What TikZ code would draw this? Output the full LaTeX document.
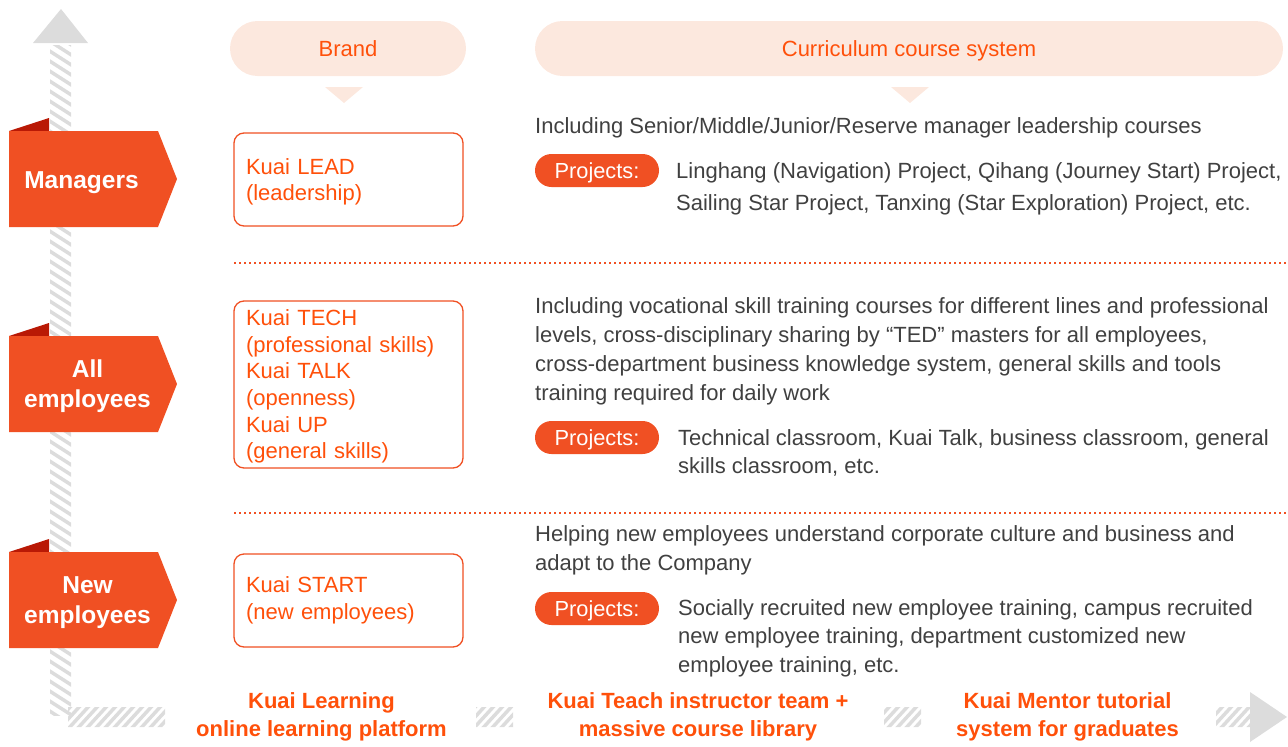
\documentclass[tikz,border=0pt]{standalone}
\usepackage{fontspec}
\setmainfont{Liberation Sans}
\definecolor{kuaiorange}{RGB}{240,80,35}
\definecolor{kuaitext}{RGB}{255,80,10}
\definecolor{kuaidark}{RGB}{185,25,5}
\definecolor{kuaipeach}{RGB}{252,232,222}
\definecolor{hatchgray}{RGB}{220,220,220}
\definecolor{bodygray}{RGB}{64,64,64}

\begin{document}
\begin{tikzpicture}[x=1pt,y=-1pt,
    flagtext/.style={text=white,font=\fontsize{24.5}{30}\selectfont\bfseries,align=center},
    head/.style={fill=kuaipeach,rounded corners=27.5pt,text=kuaitext,font=\fontsize{22}{26}\selectfont,
      text height=16pt,text depth=0pt,minimum height=55pt},
    brandbox/.style={draw=kuaiorange,line width=1.3pt,rounded corners=10pt,fill=white,text=kuaitext,
      font=\fontsize{22}{26.6}\selectfont,align=left,text width=205pt,inner xsep=12pt,minimum width=229pt},
    body/.style={text=bodygray,font=\fontsize{22}{29}\selectfont,align=left,anchor=north west,inner sep=0pt},
    projpill/.style={fill=kuaiorange,text=white,rounded corners=16.5pt,minimum width=124pt,minimum height=33pt,
      inner sep=0pt,text height=16pt,text depth=0pt,font=\fontsize{21.8}{24}\selectfont},
    footer/.style={text=kuaitext,font=\fontsize{22}{28}\selectfont\bfseries,align=center},
    sep/.style={draw=kuaiorange,line width=2pt,dash pattern=on 2pt off 3pt},
    hatch/.style={draw=hatchgray,line width=3.5pt}]
  \useasboundingbox (0,0) rectangle (1288,747);

  % Achsen (schraffiert)
  \fill[hatchgray] (33,43) -- (88,43) -- (61,9) -- cycle;
  \fill[hatchgray] (1250,692) -- (1250,742) -- (1287,717) -- cycle;
  \begin{scope}
    \clip (50,45) rectangle (71,715);
    \foreach \y in {30,40,...,720}
      \draw[hatch] (48,\y) -- ++(25,16);
  \end{scope}
  \begin{scope}
    \clip (68,707) rectangle (165,727) (476,707) rectangle (513,727)
          (884,707) rectangle (921,727) (1216,707) rectangle (1250,727);
    \foreach \x in {50,59,...,1260}
      \draw[hatch] (\x,729) -- ++(22,-24);
  \end{scope}

  % Zielgruppen
  \foreach \y/\cx/\dy/\name/\txt in {131/81.5/52/mgr/Managers,336/87.5/50.5/all/All\\employees,552/87.5/50.5/new/New\\employees}{
    \fill[kuaidark] (9,\y) -- (49,\y-13) -- (49,\y) -- cycle;
    \fill[kuaiorange] (9,\y) -- (158,\y) -- (177,\y+48) -- (158,\y+96) -- (9,\y+96) -- cycle;
    \node[flagtext] (\name) at (\cx,\y+\dy) {\txt};
  }

  % Kopfzeile
  \node[head,minimum width=236pt] (brand) at (348,48.5) {Brand};
  \node[head,minimum width=748pt] (curr) at (909,48.5) {Curriculum course system};
  \fill[kuaipeach] (325,87) -- (363,87) -- (344,103) -- cycle;
  \fill[kuaipeach] (891,87) -- (929,87) -- (910,103) -- cycle;

  % Marken
  \draw[brandbox] (234,133) rectangle (463,226);
  \draw[brandbox] (234,301) rectangle (463,468);
  \draw[brandbox] (234,554) rectangle (463,647);
  \node[brandbox,draw=none,fill=none] (lead) at (348.5,182) {Kuai LEAD\\(leadership)};
  \node[brandbox,draw=none,fill=none] (tech) at (348.5,386.5)
    {Kuai TECH\\(professional skills)\\Kuai TALK\\(openness)\\Kuai UP\\(general skills)};
  \node[brandbox,draw=none,fill=none] (start) at (348.5,600.5) {Kuai START\\(new employees)};

  % Trennlinien
  \coordinate (sepa) at (234,263);
  \coordinate (sepb) at (234,513);
  \draw[sep] (sepa) -- ++(1054,0);
  \draw[sep] (sepb) -- ++(1054,0);

  % Kurse
  \node[body] (mgrtxt) at (535,117) {Including Senior/Middle/Junior/Reserve manager leadership courses};
  \node[projpill] (mgrproj) at (597,170.5) {Projects:};
  \node[body,font=\fontsize{22}{32}\selectfont] (mgrlist) at (676,162)
    {Linghang (Navigation) Project, Qihang (Journey Start) Project,\\Sailing Star Project, Tanxing (Star Exploration) Project, etc.};

  \node[body] (alltxt) at (535,297)
    {Including vocational skill training courses for different lines and professional\\levels, cross-disciplinary sharing by “TED” masters for all employees,\\cross-department business knowledge system, general skills and tools\\training required for daily work};
  \node[projpill] (allproj) at (597,437.5) {Projects:};
  \node[body,font=\fontsize{22}{28.5}\selectfont] (alllist) at (678,429)
    {Technical classroom, Kuai Talk, business classroom, general\\skills classroom, etc.};

  \node[body] (newtxt) at (535,525)
    {Helping new employees understand corporate culture and business and\\adapt to the Company};
  \node[projpill] (newproj) at (597,608.5) {Projects:};
  \node[body,font=\fontsize{22}{28.5}\selectfont] (newlist) at (678,599)
    {Socially recruited new employee training, campus recruited\\new employee training, department customized new\\employee training, etc.};

  % Plattformen
  \node[footer] (learn) at (321.5,717) {Kuai Learning\\online learning platform};
  \node[footer] (teach) at (698,717) {Kuai Teach instructor team +\\massive course library};
  \node[footer] (mentor) at (1067.5,717) {Kuai Mentor tutorial\\system for graduates};
\end{tikzpicture}
\end{document}
